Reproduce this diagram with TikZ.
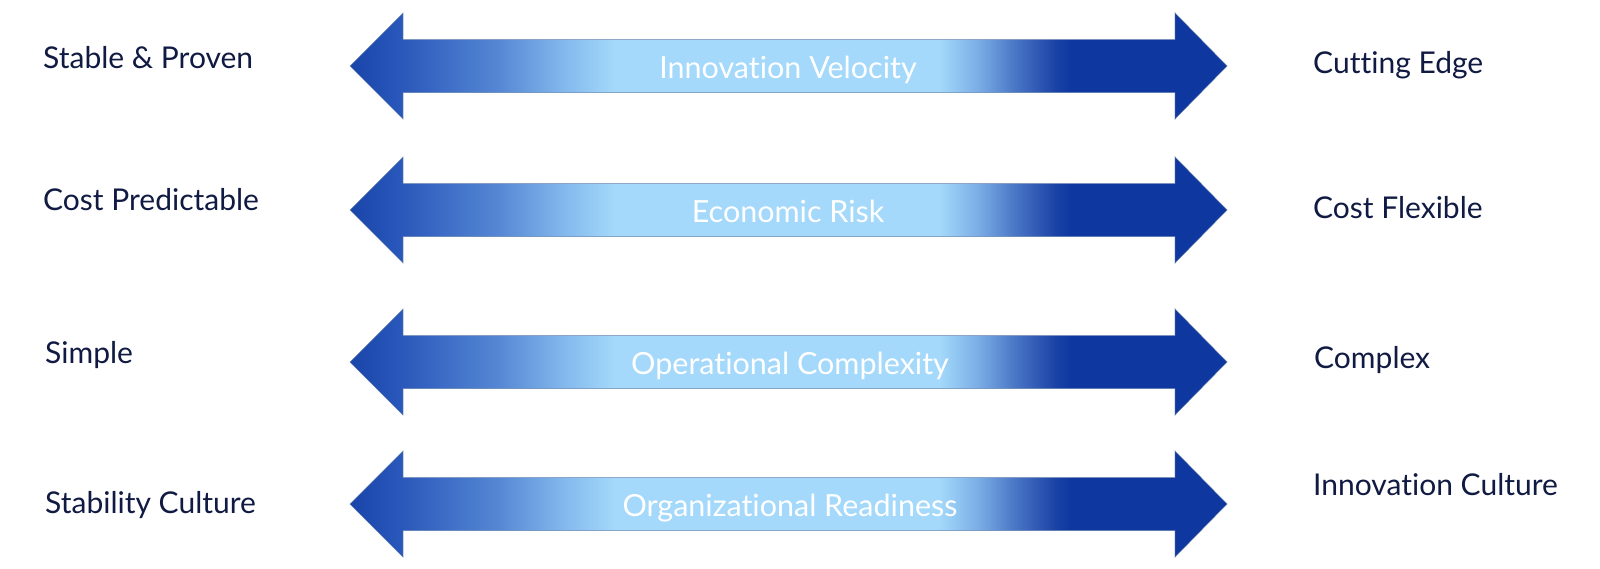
\documentclass[tikz,border=0pt]{standalone}
\usepackage{fontspec}
\setmainfont{Lato}[Ligatures={NoCommon,NoRare}]
\definecolor{labelnavy}{HTML}{101A42}
\definecolor{edgegrey}{HTML}{5E7AA6}
\definecolor{dA}{HTML}{1A45AA}
\definecolor{dB}{HTML}{2A58BB}
\definecolor{dC}{HTML}{5588D4}
\definecolor{dD}{HTML}{80B6EC}
\definecolor{lt}{HTML}{A4D9FB}
\definecolor{dE}{HTML}{7AAEE6}
\definecolor{dF}{HTML}{4A76C6}
\definecolor{dG}{HTML}{1A43A6}
\definecolor{dH}{HTML}{0E38A0}
\pgfdeclarehorizontalshading{barshade}{100bp}{%
  color(0bp)=(dA);
  color(25bp)=(dA);
  color(28bp)=(dB);
  color(33.5bp)=(dC);
  color(37bp)=(dD);
  color(40.1bp)=(lt);
  color(58.6bp)=(lt);
  color(60.8bp)=(dE);
  color(62.9bp)=(dF);
  color(65.2bp)=(dG);
  color(66.1bp)=(dH);
  color(100bp)=(dH)}
\tikzset{
  barpath/.style={shading=barshade, draw=edgegrey, draw opacity=0.6, line width=0.7pt},
  sidelabel/.style={anchor=base west, inner sep=0pt, text=labelnavy, font=\fontsize{30}{35}\selectfont},
  barlabel/.style={anchor=base, inner sep=0pt, text=white, font=\fontsize{30.5}{35}\selectfont},
}
\newcommand{\dblbar}[1]{%
  \path[barpath] (350,#1) -- (403,#1-53) -- (403,#1-26.5) -- (1175,#1-26.5) -- (1175,#1-53)
    -- (1227,#1) -- (1175,#1+53) -- (1175,#1+26.5) -- (403,#1+26.5) -- (403,#1+53) -- cycle;}
\begin{document}
\begin{tikzpicture}[x=1pt,y=-1pt]
\useasboundingbox[fill=white] (0,0) rectangle (1600,568);
% arrows
\dblbar{66}
\dblbar{210}
\dblbar{362}
\dblbar{504}
% centre labels
\node[barlabel] (c1) at (788,78) {Innovation Velocity};
\node[barlabel] (c2) at (788,222) {Economic Risk};
\node[barlabel] (c3) at (790,374) {Operational Complexity};
\node[barlabel] (c4) at (790,516) {Organizational Readiness};
% left labels
\node[sidelabel] (l1) at (43,68) {Stable \& Proven};
\node[sidelabel] (l2) at (43,210) {Cost Predictable};
\node[sidelabel] (l3) at (45,363) {Simple};
\node[sidelabel] (l4) at (45,513) {Stability Culture};
% right labels
\node[sidelabel] (r1) at (1313,73) {Cutting Edge};
\node[sidelabel] (r2) at (1313,218) {Cost Flexible};
\node[sidelabel] (r3) at (1314,368) {Complex};
\node[sidelabel] (r4) at (1313,495) {Innovation Culture};
\end{tikzpicture}
\end{document}
